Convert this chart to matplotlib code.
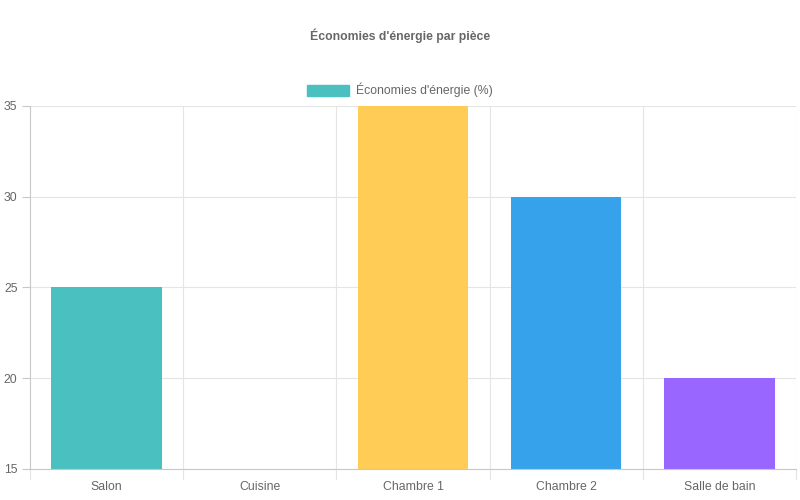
import matplotlib.pyplot as plt
from matplotlib.patches import Patch

plt.rcParams['font.family'] = ['Liberation Sans', 'DejaVu Sans']

rooms = ["Salon", "Cuisine", "Chambre 1", "Chambre 2", "Salle de bain"]
savings = [25, 15, 35, 30, 20]
colors = ["#4BC0C0", "#FF6384", "#FFCD56", "#36A2EB", "#9966FF"]

fig = plt.figure(figsize=(8, 5), dpi=100)
ax = fig.add_axes([30 / 800, 31 / 500, 766 / 800, 363 / 500])

x = range(len(rooms))
ax.bar(x, savings, width=0.72, color=colors, zorder=2)

ax.set_xlim(-0.5, len(rooms) - 0.5)
ax.set_ylim(15, 35)
ax.set_yticks([15, 20, 25, 30, 35])
ax.set_xticks(list(x))
ax.set_xticklabels(rooms)

# category boundary grid lines like chart.js
for b in [i + 0.5 for i in range(len(rooms) - 1)] + [len(rooms) - 0.5]:
    ax.axvline(b, color="#e5e5e5", lw=0.8, zorder=1)
ax.yaxis.grid(True, color="#e5e5e5", lw=0.8, zorder=1)
ax.set_axisbelow(True)

for side in ["top", "right"]:
    ax.spines[side].set_visible(False)
for side in ["left", "bottom"]:
    ax.spines[side].set_color("#c8c8c8")
    ax.spines[side].set_linewidth(0.8)

ax.tick_params(axis="both", colors="#c8c8c8", labelcolor="#666666", labelsize=8.8, length=0)
ax.tick_params(axis="x", pad=9)
ax.tick_params(axis="y", length=6, pad=3)

# x tick marks at category boundaries, below the axis
for b in [i - 0.5 for i in range(len(rooms) + 1)]:
    ax.plot([b, b], [0, -0.028], transform=ax.get_xaxis_transform(), color="#e5e5e5", lw=0.8, clip_on=False)

fig.text(0.5, 1 - 36 / 500, "Économies d'énergie par pièce", ha="center", va="center",
         fontsize=8.8, fontweight="bold", color="#666666")

handles = [Patch(facecolor="#4BC0C0", edgecolor="#4BC0C0")]
fig.legend(handles, ["Économies d'énergie (%)"], loc="center", bbox_to_anchor=(0.5, 1 - 90 / 500),
           frameon=False, fontsize=8.8, labelcolor="#666666", handlelength=3.4, handleheight=1.0,
           handletextpad=0.6)

fig.savefig("out.png", dpi=100)
